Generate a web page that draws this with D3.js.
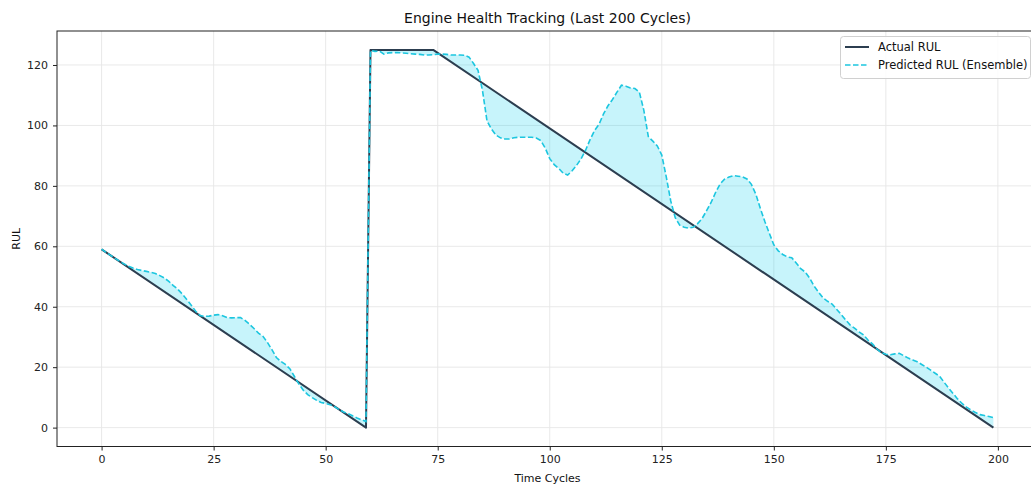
<!DOCTYPE html>
<html>
<head>
<meta charset="utf-8">
<script src="https://cdn.jsdelivr.net/npm/d3@7"></script>
<style>
    body { margin: 0; background: #fff; }
    svg { display: block; font-family: 'DejaVu Sans', sans-serif; }
</style>
</head>
<body>
<div id="chart"></div>
<script>
// Actual RUL polyline (breakpoints)
const actualCycles = [0, 59, 60, 74, 199];
const actualRul = [59, 0, 125, 125, 0];

// Predicted RUL (Ensemble), one value per cycle 0..199
const predictedRul = [
    59.1, 58.0, 57.0, 56.0, 55.1, 54.2, 53.4, 52.8, 52.3, 52.0,
    51.7, 51.4, 51.0, 50.3, 49.5, 48.4, 47.0, 45.8, 44.2, 42.4,
    40.5, 38.5, 37.1, 36.8, 36.9, 37.2, 37.4, 37.0, 36.4, 36.3,
    36.4, 36.4, 35.5, 34.2, 32.8, 31.3, 30.2, 28.2, 25.8, 23.2,
    21.9, 20.9, 19.5, 17.0, 14.5, 12.4, 10.9, 9.9, 9.0, 8.3,
    8.0, 7.6, 6.9, 6.0, 5.2, 4.6, 3.9, 3.2, 2.6, 2.0,
    124.8, 124.5, 124.6, 123.6, 124.0, 124.1, 124.1, 124.0, 123.9, 123.7,
    123.6, 123.5, 123.3, 123.3, 123.4, 123.6, 123.6, 123.5, 123.3, 123.3,
    123.3, 123.2, 122.6, 120.5, 118.2, 111.5, 101.5, 98.8, 96.8, 95.9,
    95.5, 95.5, 95.9, 96.1, 96.1, 96.1, 96.1, 95.8, 95.0, 92.5,
    89.0, 87.0, 85.8, 84.2, 83.6, 85.0, 86.8, 89.0, 91.8, 95.3,
    98.3, 100.4, 103.8, 106.5, 108.6, 111.0, 113.3, 113.0, 112.4, 112.2,
    111.0, 105.0, 96.3, 94.8, 93.2, 90.2, 83.0, 75.0, 69.5, 67.0,
    66.3, 66.0, 66.3, 67.5, 69.2, 71.8, 74.5, 77.8, 80.6, 82.2,
    82.9, 83.4, 83.2, 83.0, 82.3, 80.5, 77.2, 72.5, 68.2, 64.3,
    60.5, 58.5, 57.3, 56.5, 56.2, 54.5, 52.6, 51.5, 49.5, 46.8,
    44.8, 42.9, 41.8, 40.9, 39.2, 37.5, 35.7, 34.0, 32.9, 31.7,
    30.7, 29.0, 27.7, 26.0, 24.8, 24.3, 24.1, 24.4, 24.6, 23.8,
    23.0, 22.4, 21.8, 20.9, 20.0, 19.0, 18.0, 17.0, 15.0, 13.1,
    11.3, 9.5, 8.0, 6.8, 5.8, 5.0, 4.3, 4.0, 3.7, 3.3
];

const xTicks = [0, 25, 50, 75, 100, 125, 150, 175, 200];
const yTicks = [0, 20, 40, 60, 80, 100, 120];
const seriesLabels = ["Actual RUL", "Predicted RUL (Ensemble)"];

const COLORS = {
    actual: "#2c3e50",
    predicted: "#1cc6df",
    fill: "#00cfee",
    grid: "#e6e6e6",
    spine: "#222"
};

function createChart() {
    const width = 1031;
    const height = 487;
    // plot box (right spine sits just outside the picture)
    const plot = { left: 57, top: 31, right: 1038, bottom: 446.5 };

    const predPoints = predictedRul.map((v, i) => [i, v]);
    const actualPoints = actualCycles.map((c, i) => [c, actualRul[i]]);

    // matplotlib-like 5% margins
    const allX = predPoints.map(d => d[0]).concat(actualCycles);
    const allY = predictedRul.concat(actualRul);
    const [x0, x1] = d3.extent(allX);
    const [y0, y1] = d3.extent(allY);
    const xPad = (x1 - x0) * 0.05;
    const yPad = (y1 - y0) * 0.05;

    const x = d3.scaleLinear().domain([x0 - xPad, x1 + xPad]).range([plot.left, plot.right]);
    const y = d3.scaleLinear().domain([y0 - yPad, y1 + yPad]).range([plot.bottom, plot.top]);

    const svg = d3.select("#chart")
        .append("svg")
        .attr("width", width)
        .attr("height", height);

    // Grid
    const grid = svg.append("g").attr("stroke", COLORS.grid).attr("stroke-width", 0.9);
    grid.selectAll("line.gx")
        .data(xTicks)
        .join("line")
        .attr("class", "gx")
        .attr("x1", d => x(d)).attr("x2", d => x(d))
        .attr("y1", plot.top).attr("y2", plot.bottom);
    grid.selectAll("line.gy")
        .data(yTicks)
        .join("line")
        .attr("class", "gy")
        .attr("x1", plot.left).attr("x2", plot.right)
        .attr("y1", d => y(d)).attr("y2", d => y(d));

    const line = d3.line().x(d => x(d[0])).y(d => y(d[1]));

    // Fill between predicted and actual: predicted forward, actual back
    const fillPoints = predPoints.concat(actualPoints.slice().reverse());
    svg.append("path")
        .attr("d", line(fillPoints) + "Z")
        .attr("fill", COLORS.fill)
        .attr("fill-opacity", 0.22)
        .attr("stroke", "none");

    svg.append("path")
        .attr("d", line(actualPoints))
        .attr("fill", "none")
        .attr("stroke", COLORS.actual)
        .attr("stroke-width", 2)
        .attr("stroke-linejoin", "round");

    svg.append("path")
        .attr("d", line(predPoints))
        .attr("fill", "none")
        .attr("stroke", COLORS.predicted)
        .attr("stroke-width", 1.6)
        .attr("stroke-dasharray", "5.5,2.5");

    // Axes
    const xAxis = svg.append("g")
        .attr("transform", `translate(0,${plot.bottom})`)
        .call(d3.axisBottom(x).tickValues(xTicks).tickSize(4).tickSizeOuter(0).tickPadding(5));
    const yAxis = svg.append("g")
        .attr("transform", `translate(${plot.left},0)`)
        .call(d3.axisLeft(y).tickValues(yTicks).tickSize(4).tickSizeOuter(0).tickPadding(5));

    [xAxis, yAxis].forEach(g => {
        g.select(".domain").remove();
        g.selectAll(".tick line").attr("stroke", COLORS.spine);
        g.selectAll(".tick text")
            .attr("fill", "#222")
            .style("font-size", "11px")
            .style("font-family", "'DejaVu Sans', sans-serif");
    });

    // Spines
    svg.append("rect")
        .attr("x", plot.left).attr("y", plot.top)
        .attr("width", plot.right - plot.left)
        .attr("height", plot.bottom - plot.top)
        .attr("fill", "none")
        .attr("stroke", COLORS.spine)
        .attr("stroke-width", 1);

    // Title + axis labels
    const midX = (plot.left + plot.right) / 2;
    svg.append("text")
        .attr("x", midX).attr("y", 23)
        .attr("text-anchor", "middle")
        .style("font-size", "14px")
        .attr("fill", "#111")
        .text("Engine Health Tracking (Last 200 Cycles)");

    svg.append("text")
        .attr("x", midX).attr("y", 482)
        .attr("text-anchor", "middle")
        .style("font-size", "11px")
        .attr("fill", "#111")
        .text("Time Cycles");

    svg.append("text")
        .attr("transform", `translate(20,${(plot.top + plot.bottom) / 2}) rotate(-90)`)
        .attr("text-anchor", "middle")
        .style("font-size", "11px")
        .attr("fill", "#111")
        .text("RUL");

    // Legend
    const legend = svg.append("g");
    legend.append("rect")
        .attr("x", 840.5).attr("y", 36.5)
        .attr("width", 190).attr("height", 42)
        .attr("rx", 3)
        .attr("fill", "#fff").attr("fill-opacity", 0.85)
        .attr("stroke", "#d0d0d0");

    const rows = [
        { label: seriesLabels[0], color: COLORS.actual, width: 2, dash: null },
        { label: seriesLabels[1], color: COLORS.predicted, width: 1.6, dash: "5.5,2.5" }
    ];
    const item = legend.selectAll("g.item")
        .data(rows)
        .join("g")
        .attr("class", "item")
        .attr("transform", (d, i) => `translate(0,${47 + i * 18})`);
    item.append("line")
        .attr("x1", 845).attr("x2", 869)
        .attr("stroke", d => d.color)
        .attr("stroke-width", d => d.width)
        .attr("stroke-dasharray", d => d.dash);
    item.append("text")
        .attr("x", 878).attr("y", 4)
        .style("font-size", "11.5px")
        .attr("fill", "#111")
        .text(d => d.label);
}

createChart();
</script>
</body>
</html>
